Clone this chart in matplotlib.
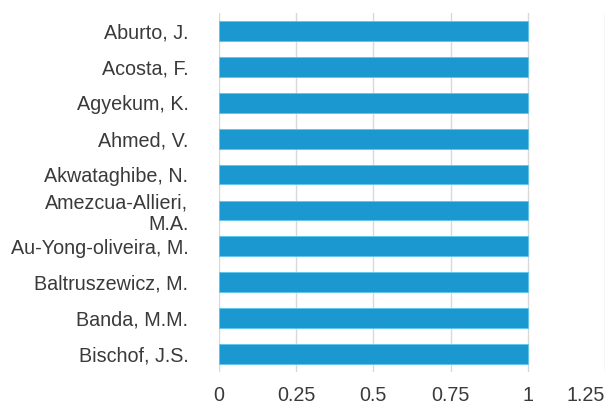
import matplotlib
matplotlib.use('Agg')
import matplotlib.pyplot as plt

plt.rcParams['font.family'] = ['Liberation Sans', 'DejaVu Sans']

authors = ['Aburto, J.', 'Acosta, F.', 'Agyekum, K.', 'Ahmed, V.',
           'Akwataghibe, N.', 'Amezcua-Allieri,\nM.A.', 'Au-Yong-oliveira, M.',
           'Baltruszewicz, M.', 'Banda, M.M.', 'Bischof, J.S.']
counts = [1, 1, 1, 1, 1, 1, 1, 1, 1, 1]
xticks = [0, 0.25, 0.5, 0.75, 1, 1.25]
xtick_labels = ['0', '0.25', '0.5', '0.75', '1', '1.25']

fig = plt.figure(figsize=(6.05, 4.12), dpi=100)
ax = fig.add_axes([219 / 605, 1 - 372 / 412, 1 - 219 / 605, 359 / 412])

ypos = list(range(len(authors)))
ax.barh(ypos, counts, height=0.55, color='#1a98cf', edgecolor='#5cc6ec', linewidth=0.6, zorder=3)

ax.set_ylim(len(authors) - 0.5, -0.5)
ax.set_xlim(0, 1.25)
ax.set_yticks(ypos)
ax.set_yticklabels(authors, fontsize=14.2, color='#3a3a3a', linespacing=1.15)
ax.set_xticks(xticks)
ax.set_xticklabels(xtick_labels, fontsize=14.2, color='#3a3a3a')
ax.get_xticklabels()[-1].set_horizontalalignment('right')

ax.tick_params(axis='y', length=0, pad=22)
ax.tick_params(axis='x', length=0, pad=10)
ax.grid(axis='x', color='#d9d9d9', linewidth=1, zorder=0)
for s in ax.spines.values():
    s.set_visible(False)

fig.savefig('out.png', dpi=100)
